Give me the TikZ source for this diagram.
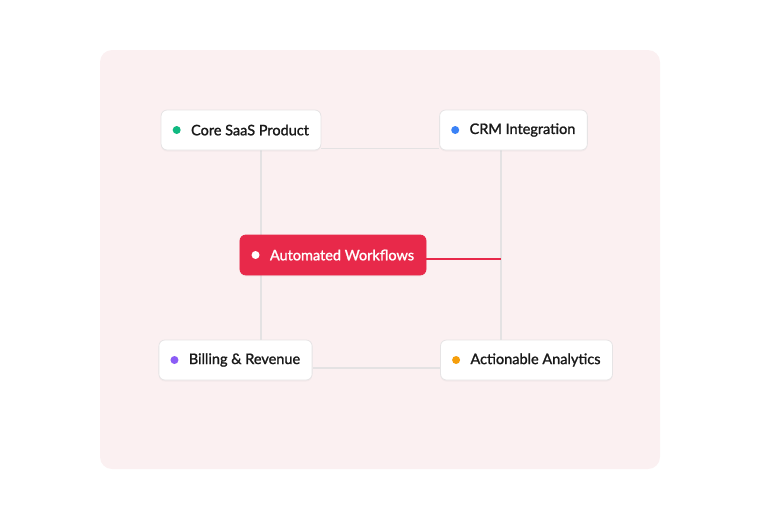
\documentclass[tikz,border=0pt]{standalone}
\usepackage{fontspec}
\setmainfont{Lato}
\newfontfamily\cardfont{Lato}[FakeBold=1.4]
\usetikzlibrary{shadows,backgrounds}
\definecolor{panelpink}{HTML}{FBF0F1}
\definecolor{linkgray}{HTML}{E4E2E3}
\definecolor{boxline}{HTML}{E6E4E5}
\definecolor{accentred}{HTML}{E8294A}
\definecolor{dotgreen}{HTML}{10B981}
\definecolor{dotblue}{HTML}{3B82F6}
\definecolor{dotpurple}{HTML}{8B5CF6}
\definecolor{dotorange}{HTML}{F59E0B}
\newcommand{\boxtext}[1]{\hspace*{18pt}\raisebox{-0.8pt}{#1}}
\tikzset{
  card/.style={draw=boxline, line width=0.8pt, fill=white, rounded corners=6pt,
    minimum height=40pt, inner xsep=12pt, inner ysep=0pt,
    font=\cardfont\fontsize{14.5}{16}\selectfont, text=black!90,
    drop shadow={opacity=0.06, shadow xshift=0pt, shadow yshift=-1.5pt}},
  hotcard/.style={card, draw=accentred, fill=accentred, text=white},
  link/.style={linkgray, line width=1.5pt},
  hotlink/.style={accentred, line width=1.5pt},
}
\begin{document}
\begin{tikzpicture}[x=1pt,y=1pt]
\useasboundingbox (0,0) rectangle (760,-520);

% nodes
\node[card] (core) at (241,-130) {\boxtext{Core SaaS Product}};
\node[card] (crm) at (513.5,-130) {\boxtext{CRM Integration}};
\node[card] (bill) at (235.5,-360) {\boxtext{Billing \& Revenue}};
\node[card] (anal) at (526.5,-360) {\boxtext{Actionable Analytics}};
\node[hotcard] (auto) at (333,-255) {\boxtext{Automated Workflows}};
\coordinate (hub) at ([xshift=-12.5pt]crm.south |- auto.east);

% panel and connectors behind
\begin{pgfonlayer}{background}
\fill[panelpink, rounded corners=12pt] (100,-50) rectangle (660,-469);
\draw[link] ([xshift=20pt]core.south) -- ([xshift=20pt]core.south |- bill.north);
\draw[link] ([yshift=2pt]core.south east) -- ([yshift=2pt]crm.south west);
\draw[link] ([xshift=-12.5pt]crm.south) -- ([xshift=-12.5pt]crm.south |- anal.north);
\draw[link] ([yshift=-8pt]bill.east) -- ([yshift=-8pt]bill.east -| anal.west);
\end{pgfonlayer}
\draw[hotlink] ([yshift=-4pt]auto.east) -- ([yshift=-4pt]hub);

% dots
\fill[dotgreen] ([xshift=16pt]core.west) circle (4pt);
\fill[dotblue] ([xshift=16pt]crm.west) circle (4pt);
\fill[white] ([xshift=16pt]auto.west) circle (4pt);
\fill[dotpurple] ([xshift=16pt]bill.west) circle (4pt);
\fill[dotorange] ([xshift=16pt]anal.west) circle (4pt);
\end{tikzpicture}
\end{document}
